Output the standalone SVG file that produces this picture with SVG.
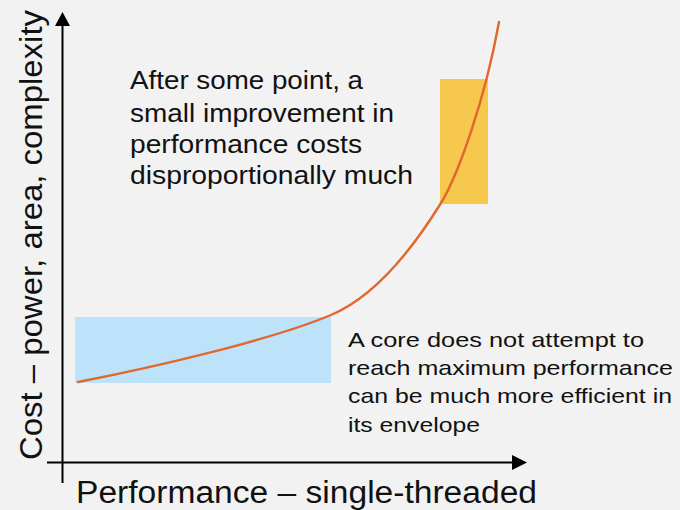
<svg xmlns="http://www.w3.org/2000/svg" width="680" height="510" viewBox="0 0 680 510">
  <style>
    .axis { stroke: #000; stroke-width: 2; fill: none; }
    .head { fill: #000; }
    .curve { stroke: #e2672c; stroke-width: 2.4; fill: none; stroke-linecap: round; }
    .lbl { font-family: "Liberation Sans", Arial, sans-serif; fill: #111; }
    .axlbl { font-size: 31px; }
    .note1 { font-size: 25px; }
    .note2 { font-size: 21px; }
  </style>
  <rect width="680" height="510" fill="#f2f2f2"/>

  <!-- highlighted regions -->
  <g id="efficient-zone">
    <rect x="75" y="317" width="256" height="66" fill="#bde3fb"/>
  </g>
  <g id="steep-zone">
    <rect x="440" y="79" width="48" height="125" fill="#f6c94e"/>
  </g>

  <!-- axes -->
  <g id="connectors">
    <line class="axis" x1="62.5" y1="483" x2="62.5" y2="24"/>
    <polygon class="head" points="62.5,12 55,26 70,26"/>
    <line class="axis" x1="47" y1="462.5" x2="514" y2="462.5"/>
    <polygon class="head" points="527,462.5 512,455 512,470"/>
  </g>

  <!-- cost/performance curve -->
  <g id="curve">
    <path class="curve" d="M78,382 C150,368 270,340.6 331,315 C378,295.3 415,245 441,203 C458,175 485,100 499,22"/>
  </g>

  <!-- axis labels -->
  <g id="y-label">
    <text class="lbl axlbl" transform="translate(42,235) rotate(-90)" text-anchor="middle" textLength="450" lengthAdjust="spacingAndGlyphs">Cost – power, area, complexity</text>
  </g>
  <g id="x-label">
    <text class="lbl axlbl" x="76" y="503" textLength="461" lengthAdjust="spacingAndGlyphs">Performance – single-threaded</text>
  </g>

  <!-- annotations -->
  <g id="note-steep">
    <text class="lbl note1" x="130" y="89" textLength="233" lengthAdjust="spacingAndGlyphs">After some point, a</text>
    <text class="lbl note1" x="130" y="122" textLength="264" lengthAdjust="spacingAndGlyphs">small improvement in</text>
    <text class="lbl note1" x="130" y="153" textLength="232" lengthAdjust="spacingAndGlyphs">performance costs</text>
    <text class="lbl note1" x="130" y="184" textLength="283" lengthAdjust="spacingAndGlyphs">disproportionally much</text>
  </g>
  <g id="note-efficient">
    <text class="lbl note2" x="348" y="347" textLength="296" lengthAdjust="spacingAndGlyphs">A core does not attempt to</text>
    <text class="lbl note2" x="348" y="375" textLength="325" lengthAdjust="spacingAndGlyphs">reach maximum performance</text>
    <text class="lbl note2" x="348" y="403" textLength="324" lengthAdjust="spacingAndGlyphs">can be much more efficient in</text>
    <text class="lbl note2" x="348" y="432" textLength="132" lengthAdjust="spacingAndGlyphs">its envelope</text>
  </g>
</svg>
